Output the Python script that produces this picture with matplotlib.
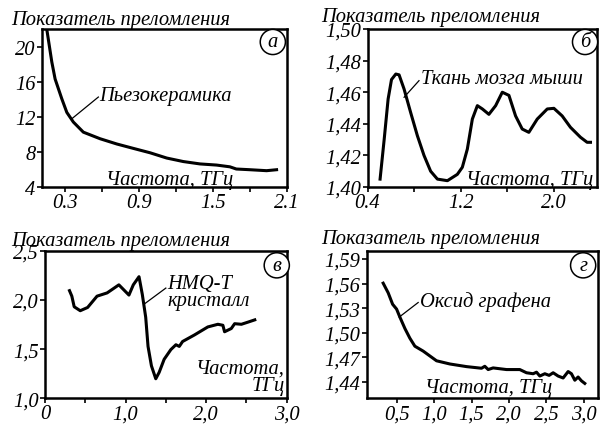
import matplotlib
matplotlib.use("Agg")
import matplotlib.pyplot as plt

plt.rcParams["font.family"] = ["Liberation Serif", "DejaVu Serif"]
plt.rcParams["font.style"] = "italic"

# (а) piezoceramics
freq_a = [0.14, 0.192, 0.219, 0.273, 0.314, 0.367, 0.448, 0.584, 0.72, 0.854, 0.99,
          1.125, 1.26, 1.395, 1.53, 1.638, 1.69, 1.80, 1.936, 2.017]
n_a = [23.0, 18.25, 16.3, 14.06, 12.5, 11.4, 10.25, 9.5, 8.9, 8.4, 7.9,
       7.3, 6.9, 6.63, 6.5, 6.3, 6.05, 5.97, 5.86, 5.97]

# (б) mouse brain tissue
freq_b = [0.508, 0.543, 0.577, 0.606, 0.643, 0.671, 0.714, 0.771, 0.828, 0.885, 0.942,
          1.0, 1.086, 1.171, 1.214, 1.257, 1.3, 1.343, 1.386, 1.442, 1.5, 1.557, 1.614,
          1.671, 1.728, 1.785, 1.857, 1.943, 2.0, 2.071, 2.142, 2.228, 2.285, 2.314]
n_b = [1.405, 1.430, 1.4557, 1.468, 1.4715, 1.471, 1.462, 1.447, 1.4325, 1.42, 1.410,
       1.405, 1.404, 1.408, 1.4125, 1.424, 1.443, 1.4515, 1.4494, 1.446, 1.4515, 1.460,
       1.458, 1.445, 1.4367, 1.4346, 1.443, 1.4494, 1.4498, 1.445, 1.4378, 1.4315,
       1.4283, 1.4283]

# (в) HMQ-T crystal
freq_c = [0.304, 0.333, 0.3625, 0.4375, 0.529, 0.646, 0.771, 0.917, 1.042, 1.096, 1.167,
          1.208, 1.25, 1.279, 1.321, 1.375, 1.417, 1.479, 1.5625, 1.625, 1.667, 1.708,
          1.854, 2.021, 2.146, 2.208, 2.229, 2.3125, 2.354, 2.4375, 2.52, 2.604]
n_c = [2.094, 2.038, 1.93, 1.89, 1.923, 2.038, 2.071, 2.153, 2.049, 2.153, 2.236,
       2.055, 1.824, 1.527, 1.33, 1.198, 1.263, 1.396, 1.495, 1.544, 1.527, 1.577,
       1.643, 1.725, 1.752, 1.742, 1.676, 1.709, 1.758, 1.752, 1.774, 1.797]

# (г) graphene oxide
freq_d = [0.321, 0.388, 0.447, 0.5, 0.544, 0.611, 0.677, 0.744, 0.855, 0.944, 1.033,
          1.211, 1.433, 1.633, 1.677, 1.722, 1.788, 1.967, 2.144, 2.233, 2.322, 2.367,
          2.411, 2.478, 2.535, 2.589, 2.655, 2.722, 2.789, 2.833, 2.878, 2.922, 2.967, 3.011]
n_d = [1.5604, 1.5486, 1.5347, 1.5288, 1.519, 1.5051, 1.4933, 1.4835, 1.4775, 1.4716,
       1.4657, 1.4618, 1.4586, 1.4566, 1.459, 1.455, 1.457, 1.455, 1.455, 1.4511, 1.4499,
       1.4518, 1.4471, 1.4499, 1.4479, 1.4511, 1.4471, 1.4447, 1.4526, 1.4499, 1.442,
       1.4459, 1.4412, 1.4381]

ylabel = "Показатель преломления"
xlabel = "Частота, ТГц"

fig = plt.figure(figsize=(6.0, 4.27), dpi=100)

FS = 14.8   # text
TS = 14.8   # tick labels
LW = 2.2


def style(ax, letter, lx, ly):
    for s in ax.spines.values():
        s.set_linewidth(1.8)
    ax.tick_params(direction="out", length=3.5, width=1.2, labelsize=TS, pad=1)
    ax.text(lx, ly, letter, transform=ax.transAxes, ha="center", va="center",
            fontsize=FS, bbox=dict(boxstyle="circle,pad=0.15", fc="white", ec="black", lw=1.1))


# panel a
ax = fig.add_axes([0.0695, 0.5597, 0.4085, 0.37])
ax.plot(freq_a, n_a, color="black", lw=LW)
ax.set_xlim(0.11, 2.1)
ax.set_ylim(4, 22)
ax.set_yticks([4, 8, 12, 16, 20])
ax.set_xticks([0.3, 0.6, 0.9, 1.2, 1.5, 1.8, 2.1], ["0.3", "", "0.9", "", "1.5", "", "2.1"])
ax.plot([0.354, 0.57], [11.77, 14.25], color="black", lw=0.9)
ax.text(0.58, 14.4, "Пьезокерамика", fontsize=FS, va="center")
ax.text(0.523, 0.05, xlabel, transform=ax.transAxes, fontsize=FS, ha="center", va="center")
style(ax, "а", 0.943, 0.918)
fig.text(0.019, 0.953, ylabel, fontsize=FS, va="center")

# panel b
ax = fig.add_axes([0.6125, 0.5597, 0.3825, 0.37])
ax.plot(freq_b, n_b, color="black", lw=LW)
ax.set_xlim(0.4, 2.37)
ax.set_ylim(1.40, 1.50)
ax.set_yticks([1.40, 1.42, 1.44, 1.46, 1.48, 1.50],
              ["1,40", "1,42", "1,44", "1,46", "1,48", "1,50"])
ax.set_xticks([0.4, 0.8, 1.2, 1.6, 2.0], ["0.4", "", "1.2", "", "2.0"])
ax.plot([0.714, 0.842], [1.4568, 1.4673], color="black", lw=0.9)
ax.text(0.855, 1.4685, "Ткань мозга мыши", fontsize=FS, va="center")
ax.text(0.982, 0.05, xlabel, transform=ax.transAxes, fontsize=FS, ha="right", va="center")
style(ax, "б", 0.948, 0.918)
fig.text(0.536, 0.958, ylabel, fontsize=FS, va="center")

# panel c
ax = fig.add_axes([0.075, 0.065, 0.4028, 0.3455])
ax.plot(freq_c, n_c, color="black", lw=LW)
ax.set_xlim(0, 3.0)
ax.set_ylim(1.0, 2.5)
ax.set_yticks([1.0, 1.5, 2.0, 2.5], ["1,0", "1,5", "2,0", "2,5"])
ax.set_xticks([0, 0.5, 1.0, 1.5, 2.0, 2.5, 3.0], ["0", "", "1,0", "", "2,0", "", "3,0"])
ax.plot([1.229, 1.5], [1.956, 2.12], color="black", lw=0.9)
ax.text(1.52, 2.08, "HMQ-T\nкристалл", fontsize=FS, va="center", linespacing=0.85)
ax.text(0.993, 0.02, "Частота,\nТГц", transform=ax.transAxes, fontsize=FS,
        ha="right", va="bottom", multialignment="right", linespacing=0.9)
style(ax, "в", 0.959, 0.901)
fig.text(0.019, 0.434, ylabel, fontsize=FS, va="center")

# panel d
ax = fig.add_axes([0.611, 0.065, 0.386, 0.3455])
ax.plot(freq_d, n_d, color="black", lw=LW)
ax.set_xlim(0.1, 3.19)
ax.set_ylim(1.42, 1.60)
ax.set_yticks([1.44, 1.47, 1.50, 1.53, 1.56, 1.59],
              ["1,44", "1,47", "1,50", "1,53", "1,56", "1,59"])
ax.set_xticks([0.5, 1.0, 1.5, 2.0, 2.5, 3.0], ["0,5", "1,0", "1,5", "2,0", "2,5", "3,0"])
ax.plot([0.535, 0.788], [1.519, 1.5368], color="black", lw=0.9)
ax.text(0.815, 1.539, "Оксид графена", fontsize=FS, va="center")
ax.text(0.525, 0.07, xlabel, transform=ax.transAxes, fontsize=FS, ha="center", va="center")
style(ax, "г", 0.935, 0.901)
fig.text(0.536, 0.438, ylabel, fontsize=FS, va="center")

fig.savefig("out.png", dpi=100)
